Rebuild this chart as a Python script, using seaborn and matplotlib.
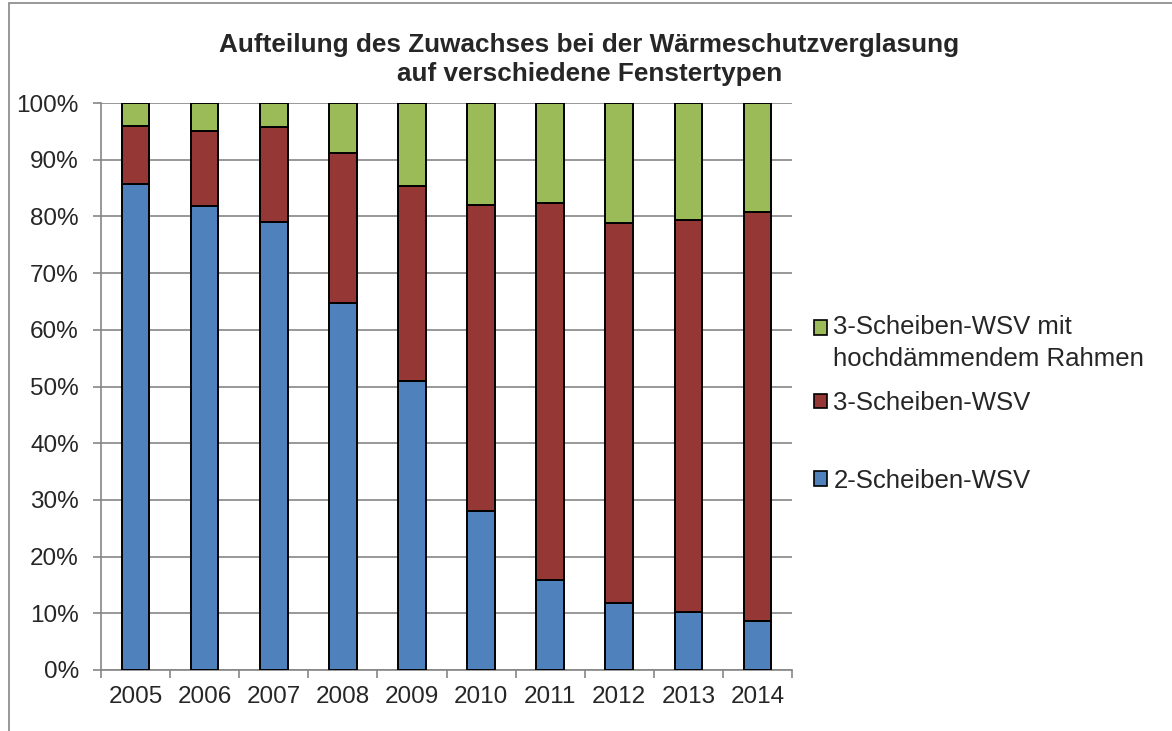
import matplotlib.pyplot as plt
import seaborn as sns
import numpy as np
from matplotlib.patches import Patch, Rectangle
from matplotlib.legend_handler import HandlerPatch
from matplotlib.ticker import PercentFormatter, FixedLocator

# Data (shares in percent)
years = ["2005", "2006", "2007", "2008", "2009", "2010", "2011", "2012", "2013", "2014"]
wsv2 = [85.7, 81.8, 79.1, 64.7, 51.0, 28.0, 15.9, 11.9, 10.2, 8.6]
wsv3 = [10.3, 13.2, 16.7, 26.5, 34.3, 54.0, 66.4, 66.9, 69.1, 72.2]
wsv3_frame = [4.0, 5.0, 4.2, 8.8, 14.7, 18.0, 17.7, 21.2, 20.7, 19.2]

labels = ["2-Scheiben-WSV", "3-Scheiben-WSV", "3-Scheiben-WSV mit\nhochdämmendem Rahmen"]
colors = ["#4F81BD", "#943735", "#9BBB59"]

sns.set_style("white")
plt.rcParams['font.family'] = ['Liberation Sans', 'DejaVu Sans']

fig = plt.figure(figsize=(11.72, 7.31), dpi=100)
ax = fig.add_axes([101 / 1172, 61 / 731, 691 / 1172, 567 / 731])

# Stacked bars
bottom = np.zeros(len(years))
for vals, col in zip([wsv2, wsv3, wsv3_frame], colors):
    sns.barplot(x=years, y=vals, bottom=bottom, color=col, saturation=1, width=0.4,
                edgecolor="black", linewidth=1.4, ax=ax, zorder=3)
    bottom = bottom + np.array(vals)

ax.set_ylim(0, 100)
ax.set_xlim(-0.5, len(years) - 0.5)
ax.yaxis.set_major_locator(FixedLocator(np.arange(0, 101, 10)))
ax.yaxis.set_major_formatter(PercentFormatter(decimals=0))
ax.grid(axis="y", color="#868686", linewidth=1.2, zorder=0)
ax.set_axisbelow(True)

for side in ["top", "right"]:
    ax.spines[side].set_visible(False)
for side in ["left", "bottom"]:
    ax.spines[side].set_color("#868686")
    ax.spines[side].set_linewidth(1.2)

ax.tick_params(axis="y", which="major", left=True, length=6, color="#868686",
               width=1.2, labelsize=17.5, pad=10)
ax.tick_params(axis="x", which="major", bottom=False, labelsize=17.5, pad=8)
ax.set_xticks(np.arange(-0.5, len(years), 1), minor=True)
ax.tick_params(axis="x", which="minor", bottom=True, length=6, color="#868686", width=1.2)
ax.set_xlabel("")
ax.set_ylabel("")

fig.suptitle("Aufteilung des Zuwachses bei der Wärmeschutzverglasung\nauf verschiedene Fenstertypen",
             x=0.503, y=0.955, fontsize=18.8, fontweight="bold", linespacing=1.28)


# legend marker of the two-line entry sits next to the first line
def first_line_patch(legend, orig_handle, xdescent, ydescent, width, height, fontsize):
    return Rectangle((-xdescent, -ydescent + 0.62 * fontsize), width, height)


# Legend (two parts to mimic the uneven spacing)
h = [Patch(facecolor=c, edgecolor="black", linewidth=1.2) for c in colors]
leg_kw = dict(loc="upper left", frameon=False, fontsize=18.5, handlelength=0.5,
              handleheight=0.5, handletextpad=0.25, borderaxespad=0, borderpad=0)
leg1 = ax.legend([h[2], h[1]], [labels[2], labels[1]],
                 bbox_to_anchor=(1.032, 0.626), labelspacing=0.8,
                 handler_map={h[2]: HandlerPatch(patch_func=first_line_patch)}, **leg_kw)
leg1.get_texts()[0].set_linespacing(1.4)
ax.add_artist(leg1)
ax.legend([h[0]], [labels[0]], bbox_to_anchor=(1.032, 0.355), **leg_kw)

# Chart frame
fig.patches.append(Rectangle((9 / 1172, -0.01), 1.2, 1 - 3 / 731 + 0.01,
                             transform=fig.transFigure, fill=False,
                             edgecolor="#868686", linewidth=1.2))

fig.savefig("out.png", dpi=100)
